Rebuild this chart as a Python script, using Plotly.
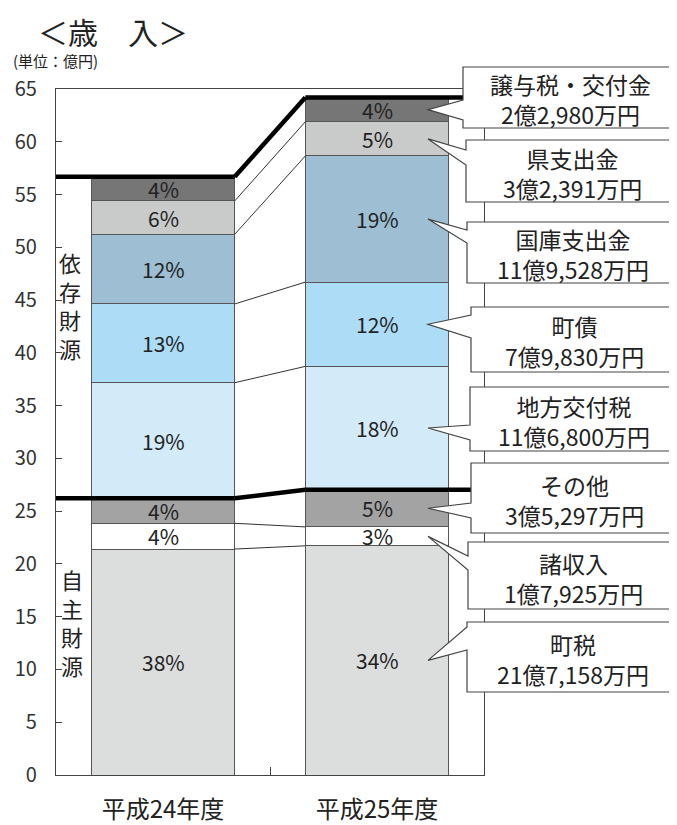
import plotly.graph_objects as go

# ---------------- data ----------------
years = ["平成24年度", "平成25年度"]
items = ["町税", "諸収入", "その他", "地方交付税", "町債", "国庫支出金", "県支出金", "譲与税・交付金"]
h24_values = [21.41, 2.44, 2.37, 10.95, 7.46, 6.60, 3.16, 2.30]
h25_values = [21.7158, 1.7925, 3.5297, 11.6800, 7.9830, 11.9528, 3.2391, 2.2980]
h24_pct = ["38%", "4%", "4%", "19%", "13%", "12%", "6%", "4%"]
h25_pct = ["34%", "3%", "5%", "18%", "12%", "19%", "5%", "4%"]
h25_amounts = ["21億7,158万円", "1億7,925万円", "3億5,297万円", "11億6,800万円",
               "7億9,830万円", "11億9,528万円", "3億2,391万円", "2億2,980万円"]
colors = ["#dcdddd", "#ffffff", "#a3a3a3", "#d3eaf8", "#acdcf6", "#9dbed3", "#c9caca", "#767676"]
y_ticks = list(range(0, 66, 5))
own_source_top_index = 2   # 自主財源 = 町税 + 諸収入 + その他

# ---------------- layout constants (page pixels) ----------------
PAGE_W, PAGE_H = 677, 825
BODY = 8                      # default body margin of the html page
W, H = PAGE_W - BODY, PAGE_H - BODY
PL, PR, PT, PB = 56, 484, 89, 775
Y_MAX = 65
BAR_W = 0.67
FONT = "Noto Sans CJK JP"


def pxx(p):
    return (p - PL) / (PR - PL)


def pxy(p):
    return (PB - p) / (PB - PT)


def cumsum(vals):
    out, s = [], 0.0
    for v in vals:
        s += v
        out.append(s)
    return out


cum = [cumsum(h24_values), cumsum(h25_values)]
series = [h24_values, h25_values]
pcts = [h24_pct, h25_pct]

fig = go.Figure()
for i, name in enumerate(items):
    fig.add_trace(go.Bar(
        x=years, y=[h24_values[i], h25_values[i]], name=name,
        width=BAR_W, marker=dict(color=colors[i], line=dict(color="#555555", width=1)),
        hoverinfo="skip", showlegend=False,
    ))

annotations = []


def label(x, y, text, size, xref="paper", yref="paper"):
    annotations.append(dict(x=x, y=y, xref=xref, yref=yref, text=text, showarrow=False,
                            xanchor="center", yanchor="middle",
                            font=dict(family=FONT, size=size, color="#222222")))


# percent labels inside segments
for j in range(2):
    for i in range(len(items)):
        mid = cum[j][i] - series[j][i] / 2
        label(years[j], mid, pcts[j][i], 21, xref="x", yref="y")

shapes = []
x_r1 = 0 + BAR_W / 2
x_l2 = 1 - BAR_W / 2
# thin connector lines
for i in range(len(items) - 1):
    if i == own_source_top_index:
        continue
    shapes.append(dict(type="line", xref="x", yref="y", x0=x_r1, y0=cum[0][i], x1=x_l2, y1=cum[1][i],
                       line=dict(color="#333333", width=1), layer="above"))
# thick lines (total and own-source boundary)
for idx in [own_source_top_index, len(items) - 1]:
    a, b = cum[0][idx], cum[1][idx]
    pts = [(-0.5, a), (x_r1, a), (x_l2, b), (1.5, b)]
    for (xa, ya), (xb, yb) in zip(pts[:-1], pts[1:]):
        shapes.append(dict(type="line", xref="x", yref="y", x0=xa, y0=ya, x1=xb, y1=yb,
                           line=dict(color="#000000", width=4.5), layer="above"))

# callout boxes (top to bottom): left, top, bottom, tail base top, tail base bottom
box_geom = [(463, 67, 128, 100, 120), (466, 140, 202, 150, 165), (467, 222, 283, 230, 243),
            (471, 307, 372, 315, 338), (470, 387, 451, 425, 440), (471, 463, 533, 503, 518),
            (468, 542, 609, 556, 570), (467, 622, 692, 627, 650)]
BOX_R = 676
TIP_X = 428
for k, (L, T, B, b1, b2) in enumerate(box_geom):
    i = len(items) - 1 - k
    tip_y = (cum[1][i] - h25_values[i] / 2) / Y_MAX
    pts = [(pxx(L), pxy(T)), (pxx(BOX_R), pxy(T)), (pxx(BOX_R), pxy(B)), (pxx(L), pxy(B)),
           (pxx(L), pxy(b2)), (pxx(TIP_X), tip_y), (pxx(L), pxy(b1))]
    path = "M " + " L ".join(f"{x:.5f},{y:.5f}" for x, y in pts) + " Z"
    shapes.append(dict(type="path", xref="paper", yref="paper", path=path,
                       fillcolor="white", line=dict(color="#444444", width=1.2), layer="above"))
    cx = pxx((L + BOX_R) / 2 + 1)
    h = B - T
    label(cx, pxy(T + h * 0.53), items[i] + "<br>" + h25_amounts[i], 23)

# side labels
label(pxx(70), pxy(305), "依<br>存<br>財<br>源", 22)
label(pxx(72), pxy(622), "自<br>主<br>財<br>源", 22)
# title and unit
label(pxx(113), pxy(31), "＜歳　入＞", 30)
label(pxx(55), pxy(61), "(単位：億円)", 15)

fig.update_layout(
    width=W, height=H, barmode="stack",
    margin=dict(l=PL - BODY, r=W - (PR - BODY), t=PT - BODY, b=H - (PB - BODY), pad=0),
    paper_bgcolor="white", plot_bgcolor="white",
    annotations=annotations, shapes=shapes,
    xaxis=dict(type="category", range=[-0.5, 1.5], showgrid=False, showline=True, mirror=True,
               linecolor="#444444", linewidth=1.3, ticks="inside", tickson="boundaries", ticklen=8,
               tickcolor="#444444", ticklabelstandoff=13, automargin=False,
               tickfont=dict(family=FONT, size=24, color="#222222")),
    yaxis=dict(range=[0, Y_MAX], tickvals=y_ticks, showgrid=False, showline=True, mirror=True,
               linecolor="#444444", linewidth=1.3, ticks="inside", ticklen=6, tickcolor="#444444",
               zeroline=False, ticklabelstandoff=14, automargin=False,
               tickfont=dict(family=FONT, size=20, color="#333333")),
)

fig.write_html("out.html")
